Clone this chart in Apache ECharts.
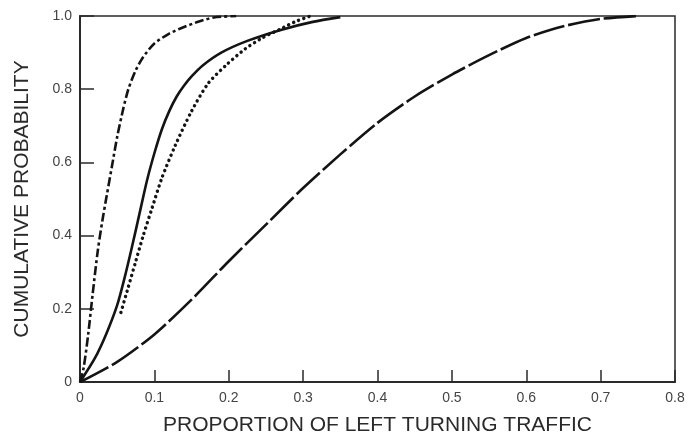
<!DOCTYPE html>
<html>
<head>
<meta charset="utf-8">
<script src="https://cdn.jsdelivr.net/npm/echarts@6/dist/echarts.min.js"></script>
<style>
html,body{margin:0;padding:0;background:#fff;}
#chart{width:694px;height:441px;}
</style>
</head>
<body>
<div id="chart"></div>
<script>
// Data
var xTickLabels = ['0', '0.1', '0.2', '0.3', '0.4', '0.5', '0.6', '0.7', '0.8'];
var yTickLabels = ['0', '0.2', '0.4', '0.6', '0.8', '1.0'];

// dash-dot curve
var dashDotX = [0, 0.005, 0.011, 0.017, 0.024, 0.03, 0.036, 0.043, 0.05, 0.058, 0.065, 0.075, 0.085, 0.1, 0.12, 0.14, 0.16, 0.18, 0.21];
var dashDotY = [0, 0.04, 0.13, 0.24, 0.36, 0.44, 0.51, 0.59, 0.67, 0.745, 0.8, 0.852, 0.888, 0.925, 0.952, 0.97, 0.985, 0.996, 1.0];

// solid curve
var solidX = [0, 0.02, 0.035, 0.05, 0.06, 0.07, 0.08, 0.09, 0.1, 0.11, 0.12, 0.13, 0.14, 0.15, 0.165, 0.19, 0.225, 0.27, 0.313, 0.35];
var solidY = [0, 0.065, 0.13, 0.21, 0.285, 0.37, 0.46, 0.55, 0.625, 0.69, 0.74, 0.78, 0.81, 0.835, 0.865, 0.9, 0.932, 0.962, 0.984, 0.997];

// dotted curve
var dottedX = [0.055, 0.065, 0.075, 0.085, 0.097, 0.11, 0.128, 0.15, 0.172, 0.196, 0.222, 0.245, 0.27, 0.29, 0.31];
var dottedY = [0.19, 0.26, 0.33, 0.4, 0.476, 0.557, 0.646, 0.74, 0.815, 0.865, 0.91, 0.94, 0.965, 0.985, 1.0];

// long-dash curve
var longDashX = [0, 0.05, 0.1, 0.15, 0.2, 0.25, 0.3, 0.35, 0.4, 0.45, 0.5, 0.55, 0.6, 0.65, 0.7, 0.75];
var longDashY = [0, 0.055, 0.13, 0.225, 0.33, 0.43, 0.53, 0.622, 0.708, 0.78, 0.84, 0.893, 0.94, 0.972, 0.992, 1.0];

function pairs(xs, ys) {
  var out = [];
  for (var i = 0; i < xs.length; i++) out.push([xs[i], ys[i]]);
  return out;
}

var chart = echarts.init(document.getElementById('chart'), null, {renderer: 'canvas'});
var FONT = 'Liberation Sans, Arial, sans-serif';
var curveColor = '#141414';

function curve(name, xs, ys, lineType, width, cap) {
  return {
    name: name,
    type: 'line',
    data: pairs(xs, ys),
    smooth: 0.25,
    showSymbol: false,
    symbol: 'none',
    silent: true,
    lineStyle: {color: curveColor, width: width, type: lineType, cap: cap || 'butt', join: 'round'}
  };
}

chart.setOption({
  animation: false,
  backgroundColor: '#ffffff',
  grid: {
    left: 80, right: 19, top: 16, bottom: 55,
    show: true, borderColor: '#2a2a2a', borderWidth: 1.5, backgroundColor: 'transparent'
  },
  xAxis: {
    type: 'value', min: 0, max: 0.8, interval: 0.1,
    name: 'PROPORTION OF LEFT TURNING TRAFFIC',
    nameLocation: 'middle', nameGap: 33,
    nameTextStyle: {fontFamily: FONT, fontSize: 21, color: '#2a2a2a'},
    axisLine: {show: true, lineStyle: {color: '#2a2a2a', width: 2}},
    axisTick: {show: true, inside: true, length: 12, lineStyle: {color: '#2a2a2a', width: 1.5}},
    axisLabel: {
      fontFamily: FONT, fontSize: 14, color: '#444', margin: 9,
      formatter: function (v) { return xTickLabels[Math.round(v / 0.1)]; }
    },
    splitLine: {show: false}
  },
  yAxis: {
    type: 'value', min: 0, max: 1.0, interval: 0.2,
    name: 'CUMULATIVE PROBABILITY',
    nameLocation: 'middle', nameGap: 47, nameRotate: 90,
    nameTextStyle: {fontFamily: FONT, fontSize: 21, color: '#2a2a2a'},
    axisLine: {show: true, lineStyle: {color: '#2a2a2a', width: 2}},
    axisTick: {show: true, inside: true, length: 14, lineStyle: {color: '#2a2a2a', width: 1.5}},
    axisLabel: {
      fontFamily: FONT, fontSize: 14, color: '#444', margin: 8,
      formatter: function (v) { return yTickLabels[Math.round(v / 0.2)]; }
    },
    splitLine: {show: false}
  },
  series: [
    curve('dash-dot', dashDotX, dashDotY, [9, 3, 3, 3], 2.6),
    curve('solid', solidX, solidY, 'solid', 2.6),
    curve('dotted', dottedX, dottedY, [0.1, 5.4], 3.4, 'round'),
    curve('long-dash', longDashX, longDashY, [32, 4], 2.6)
  ]
});
</script>
</body>
</html>
